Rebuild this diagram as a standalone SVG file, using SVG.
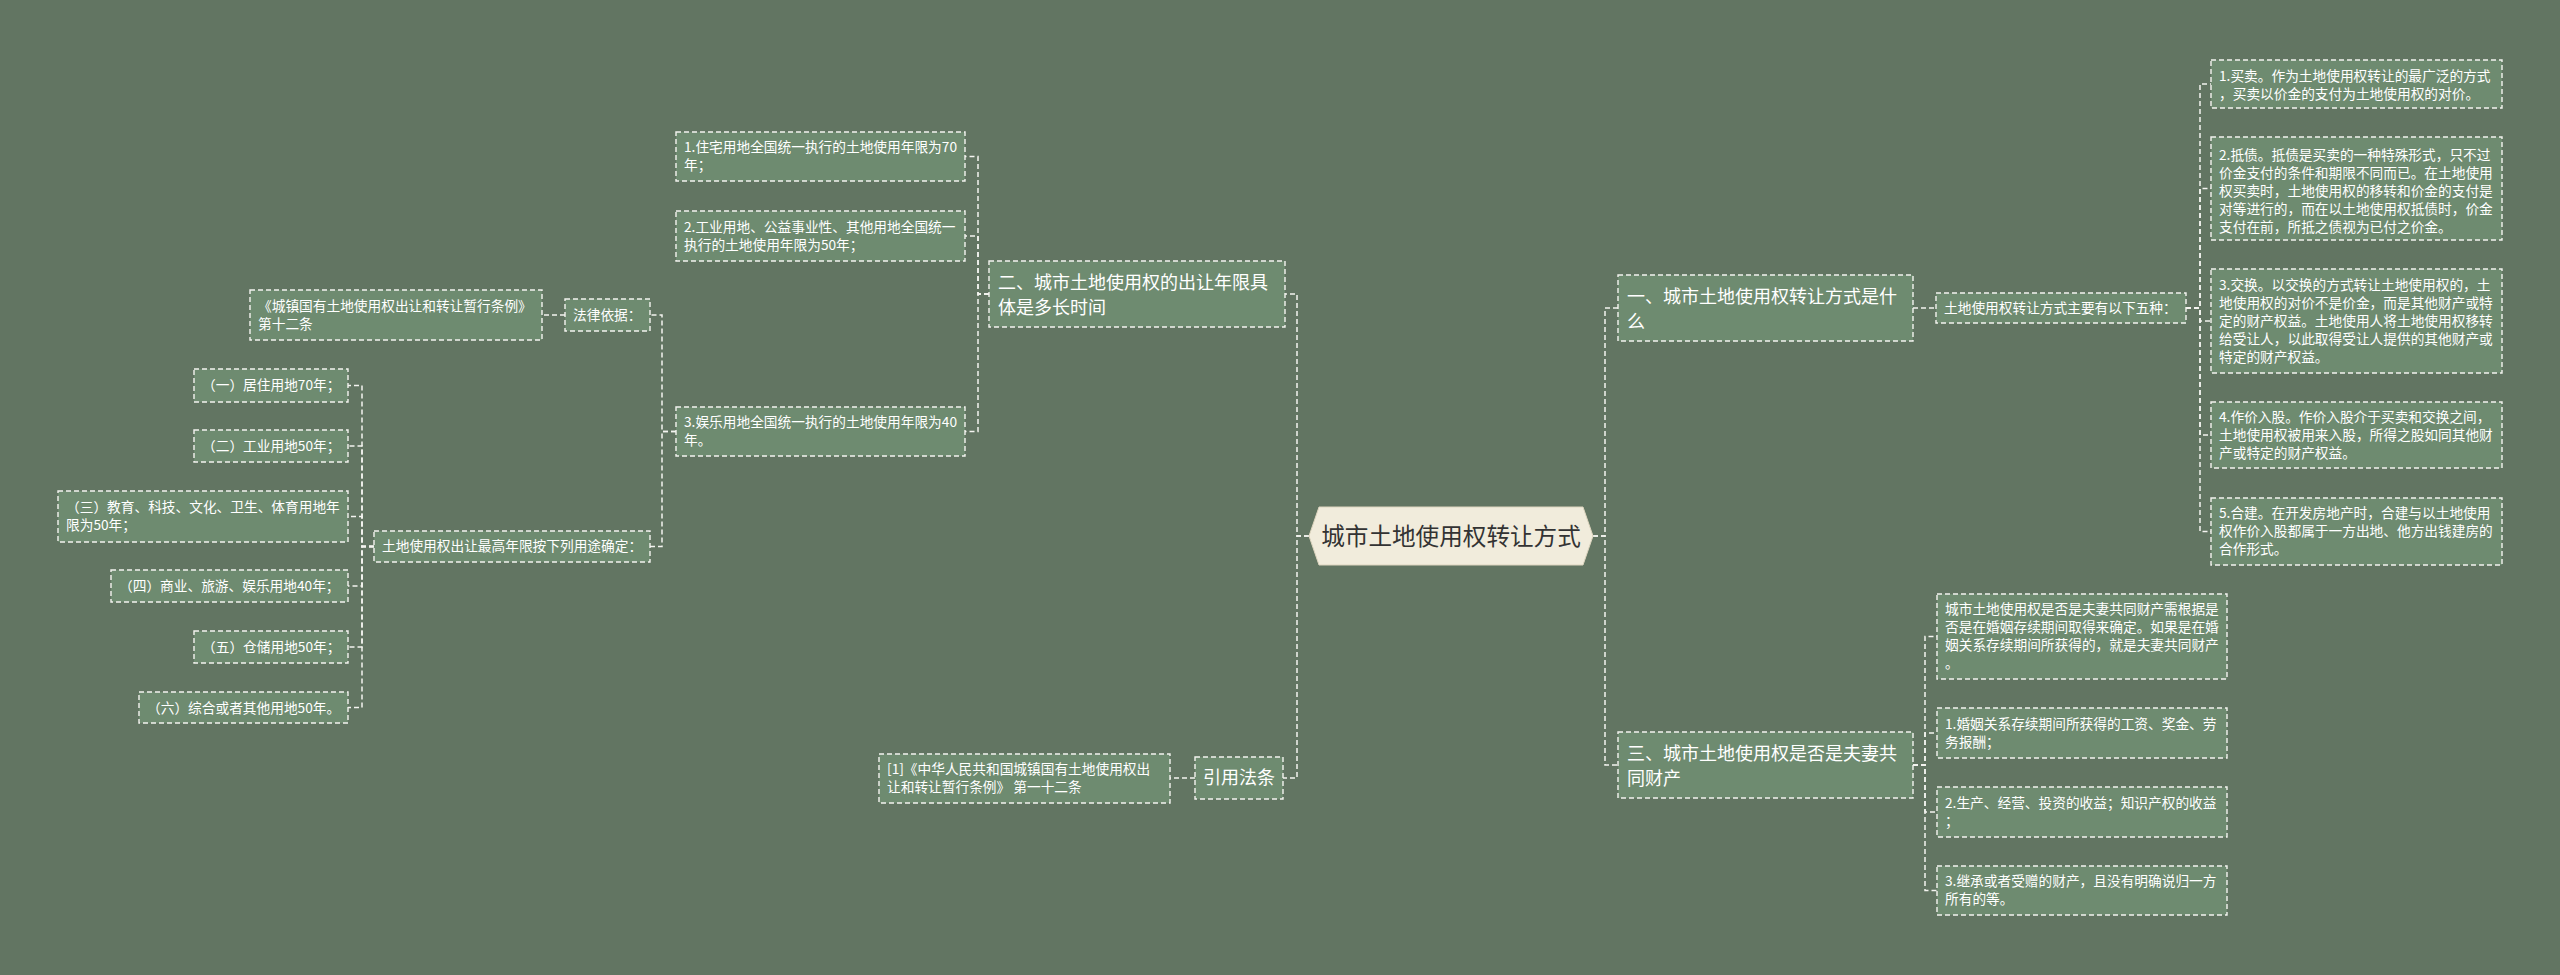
<svg xmlns="http://www.w3.org/2000/svg" width="2560" height="975" viewBox="0 0 2560 975">
<style>
.bg{fill:#627562}
.box{fill:#6e8b70;stroke:#f4f4f0;stroke-width:1.4;stroke-dasharray:5 3}
.t{font-family:"Noto Sans CJK SC","Noto Sans",sans-serif;font-size:13.7px;fill:#ffffff}
.tl{font-family:"Noto Sans CJK SC","Noto Sans",sans-serif;font-size:18px;fill:#ffffff}
.tc{font-family:"Noto Sans CJK SC","Noto Sans",sans-serif;font-size:23.6px;fill:#333333}
.link{fill:none;stroke:#f4f4f0;stroke-width:1.5;stroke-dasharray:5 3}
</style>
<rect class="bg" x="0" y="0" width="2560" height="975"/>
<g id="connectors">
<path class="link" d="M1593,536 H1605 V308 H1618"/>
<path class="link" d="M1593,536 H1605 V765 H1618"/>
<path class="link" d="M1309,536 H1297 V294 H1285"/>
<path class="link" d="M1309,536 H1297 V778 H1283"/>
<path class="link" d="M1913,308 H1936"/>
<path class="link" d="M2186,308 H2200 V84 H2211"/>
<path class="link" d="M2186,308 H2200 V188.5 H2211"/>
<path class="link" d="M2186,308 H2200 V321 H2211"/>
<path class="link" d="M2186,308 H2200 V435 H2211"/>
<path class="link" d="M2186,308 H2200 V531.5 H2211"/>
<path class="link" d="M1913,765 H1925 V636.5 H1937"/>
<path class="link" d="M1913,765 H1925 V733 H1937"/>
<path class="link" d="M1913,765 H1925 V812 H1937"/>
<path class="link" d="M1913,765 H1925 V890.5 H1937"/>
<path class="link" d="M989,294 H978 V156.5 H965"/>
<path class="link" d="M989,294 H978 V236 H965"/>
<path class="link" d="M989,294 H978 V431.5 H965"/>
<path class="link" d="M676,431.5 H662 V315 H650"/>
<path class="link" d="M676,431.5 H662 V546.5 H650"/>
<path class="link" d="M565,315 H542"/>
<path class="link" d="M374,546.5 H362 V385.5 H348"/>
<path class="link" d="M374,546.5 H362 V446 H348"/>
<path class="link" d="M374,546.5 H362 V516.5 H348"/>
<path class="link" d="M374,546.5 H362 V586 H348"/>
<path class="link" d="M374,546.5 H362 V647 H348"/>
<path class="link" d="M374,546.5 H362 V707.5 H348"/>
<path class="link" d="M1195,778 H1170"/>
</g>
<g id="root">
<polygon points="1309,536 1319,507 1583,507 1593,536 1583,565 1319,565" fill="#f1ecdc" stroke="#ddd5bf" stroke-width="1"/>
<text class="tc" x="1451" y="545" text-anchor="middle">城市土地使用权转让方式</text>
</g>
<g id="n-yi">
<rect class="box" x="1618" y="275" width="295" height="66"/>
<text class="tl" x="1627" y="302.5">一、城市土地使用权转让方式是什<tspan x="1627" dy="25">么</tspan></text>
</g>
<g id="n-summary">
<rect class="box" x="1936" y="293" width="250" height="30"/>
<text class="t" x="1944" y="313">土地使用权转让方式主要有以下五种：</text>
</g>
<g id="n-r1">
<rect class="box" x="2211" y="60" width="291" height="48"/>
<text class="t" x="2219" y="81">1.买卖。作为土地使用权转让的最广泛的方式<tspan x="2219" dy="18">，买卖以价金的支付为土地使用权的对价。</tspan></text>
</g>
<g id="n-r2">
<rect class="box" x="2211" y="137" width="291" height="103"/>
<text class="t" x="2219" y="160">2.抵债。抵债是买卖的一种特殊形式，只不过<tspan x="2219" dy="18">价金支付的条件和期限不同而已。在土地使用</tspan><tspan x="2219" dy="18">权买卖时，土地使用权的移转和价金的支付是</tspan><tspan x="2219" dy="18">对等进行的，而在以土地使用权抵债时，价金</tspan><tspan x="2219" dy="18">支付在前，所抵之债视为已付之价金。</tspan></text>
</g>
<g id="n-r3">
<rect class="box" x="2211" y="269" width="291" height="104"/>
<text class="t" x="2219" y="290">3.交换。以交换的方式转让土地使用权的，土<tspan x="2219" dy="18">地使用权的对价不是价金，而是其他财产或特</tspan><tspan x="2219" dy="18">定的财产权益。土地使用人将土地使用权移转</tspan><tspan x="2219" dy="18">给受让人，以此取得受让人提供的其他财产或</tspan><tspan x="2219" dy="18">特定的财产权益。</tspan></text>
</g>
<g id="n-r4">
<rect class="box" x="2211" y="402" width="291" height="66"/>
<text class="t" x="2219" y="422">4.作价入股。作价入股介于买卖和交换之间，<tspan x="2219" dy="18">土地使用权被用来入股，所得之股如同其他财</tspan><tspan x="2219" dy="18">产或特定的财产权益。</tspan></text>
</g>
<g id="n-r5">
<rect class="box" x="2211" y="498" width="291" height="67"/>
<text class="t" x="2219" y="518">5.合建。在开发房地产时，合建与以土地使用<tspan x="2219" dy="18">权作价入股都属于一方出地、他方出钱建房的</tspan><tspan x="2219" dy="18">合作形式。</tspan></text>
</g>
<g id="n-san">
<rect class="box" x="1618" y="732" width="295" height="66"/>
<text class="tl" x="1627" y="759.5">三、城市土地使用权是否是夫妻共<tspan x="1627" dy="25">同财产</tspan></text>
</g>
<g id="n-sa">
<rect class="box" x="1937" y="594" width="290" height="85"/>
<text class="t" x="1945" y="614">城市土地使用权是否是夫妻共同财产需根据是<tspan x="1945" dy="18">否是在婚姻存续期间取得来确定。如果是在婚</tspan><tspan x="1945" dy="18">姻关系存续期间所获得的，就是夫妻共同财产</tspan><tspan x="1945" dy="18">。</tspan></text>
</g>
<g id="n-sb">
<rect class="box" x="1937" y="708" width="290" height="50"/>
<text class="t" x="1945" y="729">1.婚姻关系存续期间所获得的工资、奖金、劳<tspan x="1945" dy="18">务报酬；</tspan></text>
</g>
<g id="n-sc">
<rect class="box" x="1937" y="787" width="290" height="50"/>
<text class="t" x="1945" y="808">2.生产、经营、投资的收益；知识产权的收益<tspan x="1945" dy="18">；</tspan></text>
</g>
<g id="n-sd">
<rect class="box" x="1937" y="866" width="290" height="49"/>
<text class="t" x="1945" y="886">3.继承或者受赠的财产，且没有明确说归一方<tspan x="1945" dy="18">所有的等。</tspan></text>
</g>
<g id="n-er">
<rect class="box" x="989" y="261" width="296" height="66"/>
<text class="tl" x="998" y="288.5">二、城市土地使用权的出让年限具<tspan x="998" dy="25">体是多长时间</tspan></text>
</g>
<g id="n-e1">
<rect class="box" x="676" y="132" width="289" height="49"/>
<text class="t" x="684" y="152">1.住宅用地全国统一执行的土地使用年限为70<tspan x="684" dy="18">年；</tspan></text>
</g>
<g id="n-e2">
<rect class="box" x="676" y="211" width="289" height="50"/>
<text class="t" x="684" y="232">2.工业用地、公益事业性、其他用地全国统一<tspan x="684" dy="18">执行的土地使用年限为50年；</tspan></text>
</g>
<g id="n-e3">
<rect class="box" x="676" y="407" width="289" height="49"/>
<text class="t" x="684" y="427">3.娱乐用地全国统一执行的土地使用年限为40<tspan x="684" dy="18">年。</tspan></text>
</g>
<g id="n-law">
<rect class="box" x="565" y="299" width="85" height="32"/>
<text class="t" x="573" y="320">法律依据：</text>
</g>
<g id="n-law1">
<rect class="box" x="250" y="290" width="292" height="50"/>
<text class="t" x="258" y="311">《城镇国有土地使用权出让和转让暂行条例》<tspan x="258" dy="18">第十二条</tspan></text>
</g>
<g id="n-max">
<rect class="box" x="374" y="531" width="276" height="31"/>
<text class="t" x="382" y="551">土地使用权出让最高年限按下列用途确定：</text>
</g>
<g id="n-m1">
<rect class="box" x="194" y="369" width="154" height="33"/>
<text class="t" x="202" y="390">（一）居住用地70年；</text>
</g>
<g id="n-m2">
<rect class="box" x="194" y="430" width="154" height="32"/>
<text class="t" x="202" y="451">（二）工业用地50年；</text>
</g>
<g id="n-m3">
<rect class="box" x="58" y="491" width="290" height="51"/>
<text class="t" x="66" y="512">（三）教育、科技、文化、卫生、体育用地年<tspan x="66" dy="18">限为50年；</tspan></text>
</g>
<g id="n-m4">
<rect class="box" x="111" y="570" width="237" height="32"/>
<text class="t" x="119" y="591">（四）商业、旅游、娱乐用地40年；</text>
</g>
<g id="n-m5">
<rect class="box" x="194" y="631" width="154" height="32"/>
<text class="t" x="202" y="652">（五）仓储用地50年；</text>
</g>
<g id="n-m6">
<rect class="box" x="139" y="692" width="209" height="31"/>
<text class="t" x="147" y="712.5">（六）综合或者其他用地50年。</text>
</g>
<g id="n-ref">
<rect class="box" x="1195" y="757" width="88" height="42"/>
<text class="tl" x="1203" y="784">引用法条</text>
</g>
<g id="n-ref1">
<rect class="box" x="879" y="754" width="291" height="49"/>
<text class="t" x="887" y="774">[1]《中华人民共和国城镇国有土地使用权出<tspan x="887" dy="18">让和转让暂行条例》 第一十二条</tspan></text>
</g>
</svg>
